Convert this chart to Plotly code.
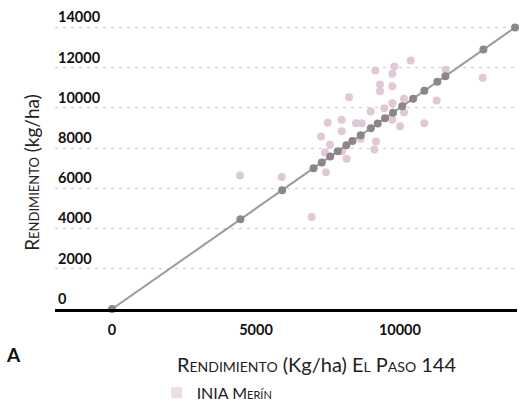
import plotly.graph_objects as go

# El Paso 144 reference (x = y)
ep_x = [0, 4460, 5910, 7000, 7285, 7580, 7840, 8140, 8350, 8640, 8990, 9230, 9480, 9760, 10080, 10460, 10850, 11300, 11580, 12900, 14000]
ep_y = ep_x

# INIA Merín vs El Paso 144
im_x = [4446, 5894, 6936, 7260, 7398, 7433, 7491, 7572, 7977, 7977, 7989, 8151, 8232, 8475, 8638, 8673,
        8985, 9112, 9147, 9169, 9309, 9309, 9459, 9737, 9737, 9737, 9737, 9807, 10003, 10142, 10142,
        10375, 10848, 11278, 11590, 12876]
im_y = [6639, 6570, 4570, 8578, 7782, 6803, 9259, 8165, 9408, 8842, 7847, 7469, 10532, 9239, 8463, 9239,
        9821, 7931, 11860, 8330, 11164, 10830, 9985, 11696, 11079, 10234, 9408, 12059, 9090, 10452, 9786,
        12357, 9239, 10368, 11894, 11497]

y_ticks = [0, 2000, 4000, 6000, 8000, 10000, 12000, 14000]
x_ticks = [0, 5000, 10000]

PINK = "#e0c8d6"
DARK = "#8b868a"
LINE = "#9e9a9c"
NUM_FONT = dict(family="Lato", size=14.5, color="#111111", weight="bold")
TXT = "Lato"
SC = '<span style="font-variant:small-caps">{}</span>'

fig = go.Figure()
fig.add_trace(go.Scatter(
    x=im_x, y=im_y, mode="markers", name="INIA Merín", showlegend=False,
    marker=dict(color=PINK, size=8), cliponaxis=False))
fig.add_trace(go.Scatter(
    x=ep_x, y=ep_y, mode="lines+markers", name="El Paso 144", showlegend=False,
    line=dict(color=LINE, width=2), marker=dict(color=DARK, size=8), cliponaxis=False))
# legend entry
fig.add_trace(go.Scatter(
    x=[None], y=[None], mode="markers", name="INIA Merín", showlegend=True,
    marker=dict(color="#eadfe8", size=11, symbol="square")))

fig.update_layout(
    width=519, height=402,
    margin=dict(l=55, r=2, t=5, b=93, autoexpand=False),
    plot_bgcolor="white", paper_bgcolor="white",
    showlegend=True,
    legend=dict(orientation="h", x=0.22, y=-0.276, xanchor="left", yanchor="middle",
                font=dict(family=TXT, size=16, color="#222222", variant="small-caps"),
                itemwidth=30, bgcolor="rgba(0,0,0,0)"),
    xaxis=dict(range=[-1980, 14067], tickvals=x_ticks, ticktext=[str(v) for v in x_ticks],
               showgrid=False, zeroline=False, showline=True, linecolor="black", linewidth=3,
               ticks="", tickfont=NUM_FONT, ticklabelstandoff=6, automargin=False),
    yaxis=dict(range=[0, 15117], tickvals=y_ticks, ticktext=[str(v) for v in y_ticks],
               showgrid=True, gridcolor="#cccccc", griddash="3px,5px", gridwidth=1,
               zeroline=False, showline=False, ticks="", automargin=False,
               ticklabelposition="inside top", tickfont=NUM_FONT),
    annotations=[
        dict(text=SC.format("Rendimiento") + " (Kg/ha) " + SC.format("El Paso") + " 144",
             xref="paper", yref="paper",
             x=0.567, y=-0.181, xanchor="center", yanchor="middle", showarrow=False,
             font=dict(family=TXT, size=20, color="#222222")),
        dict(text=SC.format("Rendimiento") + " (kg/ha)", xref="paper", yref="paper",
             x=-0.05, y=0.451, xanchor="center", yanchor="middle", showarrow=False, textangle=-90,
             font=dict(family=TXT, size=19, color="#222222")),
        dict(text="<b>A</b>", xref="paper", yref="paper",
             x=-0.089, y=-0.151, xanchor="center", yanchor="middle", showarrow=False,
             font=dict(family=TXT, size=19, color="#111111")),
    ],
)

fig.write_html("out.html", config={"displayModeBar": False},
               post_script="document.body.style.margin='0px';")
